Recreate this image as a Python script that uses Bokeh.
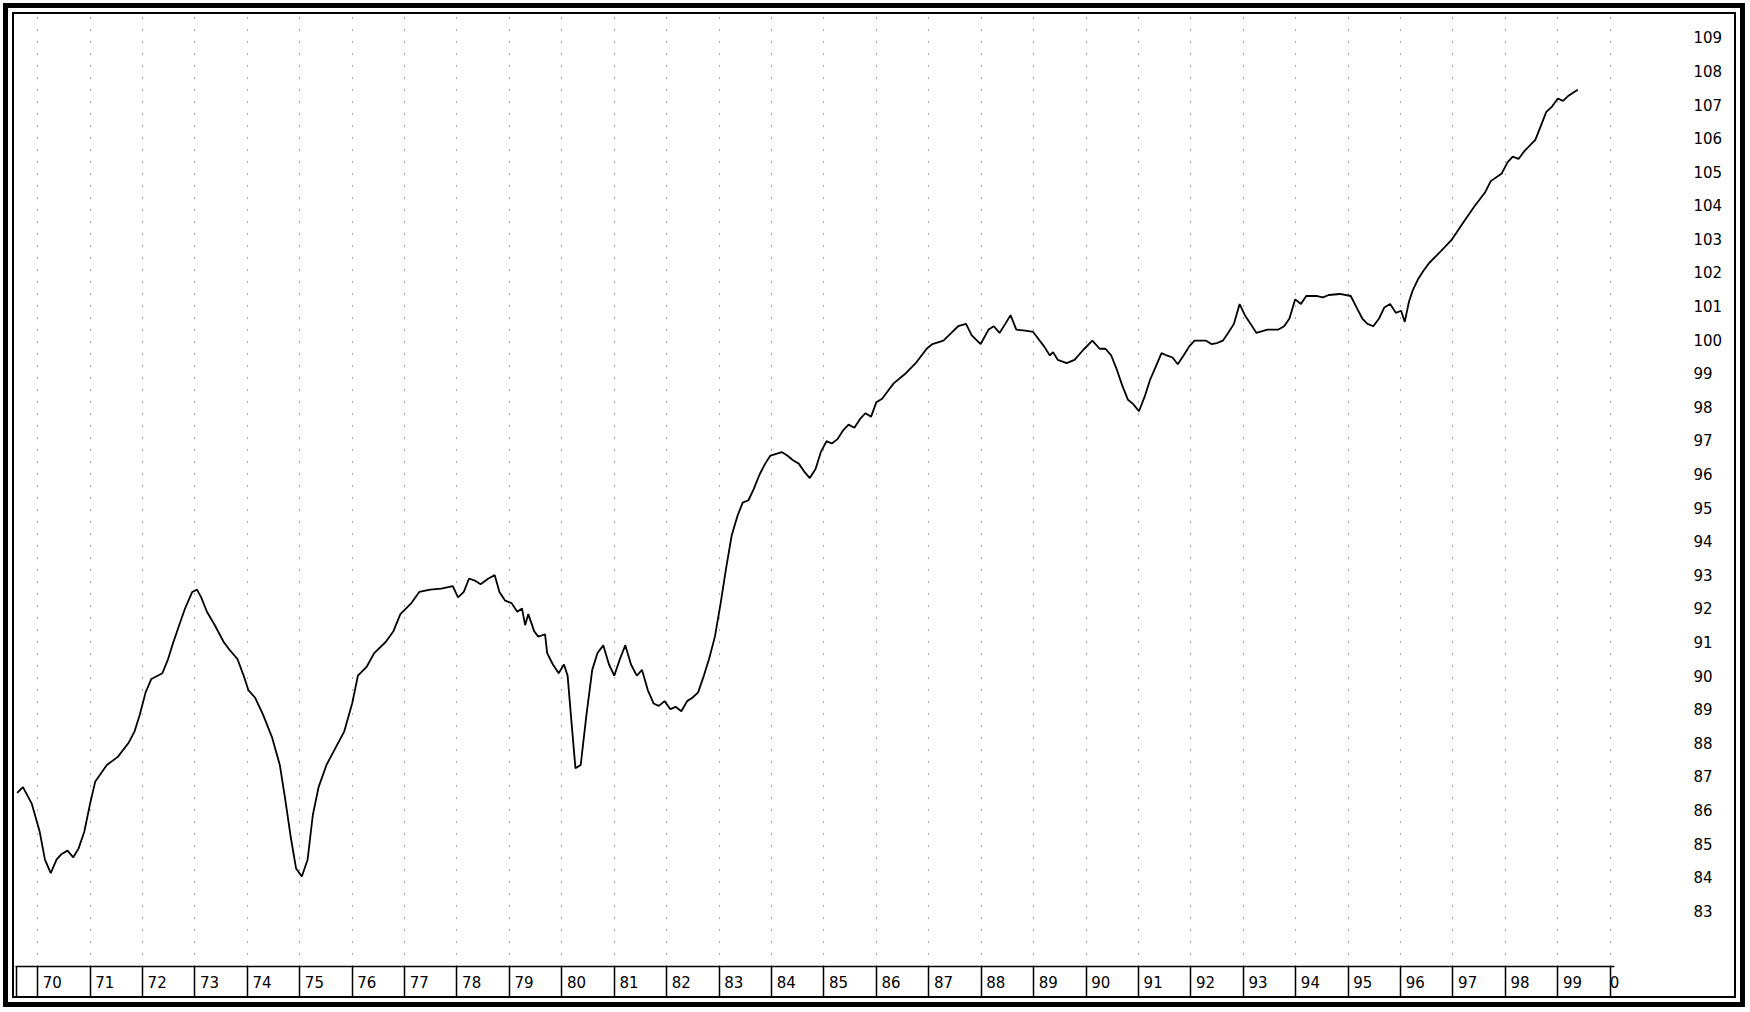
from bokeh.plotting import figure
from bokeh.models import FixedTicker
from bokeh.embed import file_html
from bokeh.resources import INLINE

# ---- data (index level, 1969-1999) ----
years = [1969.61, 1969.72, 1969.89, 1970.04, 1970.14, 1970.25, 1970.36, 1970.46, 1970.57, 1970.68,
         1970.78, 1970.89, 1971.00, 1971.10, 1971.32, 1971.53, 1971.74, 1971.85, 1971.95, 1972.06,
         1972.17, 1972.38, 1972.49, 1972.59, 1972.70, 1972.81, 1972.95, 1973.04, 1973.12, 1973.23,
         1973.38, 1973.55, 1973.66, 1973.81, 1973.93, 1974.02, 1974.15, 1974.30, 1974.47, 1974.62,
         1974.72, 1974.83, 1974.93, 1975.04, 1975.15, 1975.25, 1975.36, 1975.51, 1975.68, 1975.85,
         1976.00, 1976.11, 1976.28, 1976.42, 1976.64, 1976.79, 1976.92, 1977.13, 1977.28, 1977.49,
         1977.70, 1977.92, 1978.02, 1978.13, 1978.23, 1978.34, 1978.45, 1978.60, 1978.72, 1978.81,
         1978.92, 1979.04, 1979.15, 1979.24, 1979.30, 1979.36, 1979.47, 1979.55, 1979.68, 1979.72,
         1979.83, 1979.94, 1980.04, 1980.11, 1980.19, 1980.26, 1980.36, 1980.47, 1980.58, 1980.68,
         1980.79, 1980.90, 1981.00, 1981.11, 1981.21, 1981.32, 1981.43, 1981.53, 1981.64, 1981.75,
         1981.85, 1981.96, 1982.07, 1982.17, 1982.28, 1982.39, 1982.49, 1982.60, 1982.71, 1982.81,
         1982.92, 1983.03, 1983.13, 1983.24, 1983.35, 1983.45, 1983.56, 1983.66, 1983.77, 1983.88,
         1983.98, 1984.20, 1984.30, 1984.41, 1984.52, 1984.62, 1984.73, 1984.84, 1984.94, 1985.05,
         1985.15, 1985.26, 1985.37, 1985.47, 1985.58, 1985.69, 1985.79, 1985.90, 1986.00, 1986.11,
         1986.22, 1986.33, 1986.54, 1986.75, 1986.96, 1987.07, 1987.28, 1987.43, 1987.56, 1987.71,
         1987.82, 1987.99, 1988.14, 1988.24, 1988.35, 1988.46, 1988.56, 1988.67, 1988.84, 1988.99,
         1989.20, 1989.31, 1989.37, 1989.46, 1989.63, 1989.78, 1989.95, 1990.12, 1990.26, 1990.37,
         1990.48, 1990.58, 1990.69, 1990.80, 1990.90, 1991.01, 1991.12, 1991.22, 1991.33, 1991.44,
         1991.54, 1991.65, 1991.75, 1991.86, 1991.97, 1992.07, 1992.29, 1992.39, 1992.50, 1992.61,
         1992.71, 1992.82, 1992.93, 1993.03, 1993.14, 1993.25, 1993.46, 1993.67, 1993.78, 1993.88,
         1993.99, 1994.10, 1994.20, 1994.41, 1994.52, 1994.63, 1994.84, 1995.05, 1995.16, 1995.27,
         1995.37, 1995.48, 1995.59, 1995.69, 1995.80, 1995.91, 1996.01, 1996.08, 1996.16, 1996.23,
         1996.33, 1996.44, 1996.55, 1996.76, 1996.97, 1997.18, 1997.40, 1997.61, 1997.72, 1997.93,
         1998.04, 1998.14, 1998.25, 1998.36, 1998.57, 1998.68, 1998.78, 1998.89, 1999.00, 1999.10,
         1999.21, 1999.38]

values = [86.51, 86.68, 86.18, 85.35, 84.52, 84.12, 84.52, 84.69, 84.79, 84.59,
          84.85, 85.35, 86.18, 86.85, 87.34, 87.58, 88.01, 88.34, 88.84, 89.50,
          89.90, 90.07, 90.50, 91.00, 91.50, 91.99, 92.49, 92.56, 92.33, 91.90,
          91.50, 91.00, 90.77, 90.50, 90.00, 89.57, 89.34, 88.84, 88.17, 87.34,
          86.35, 85.18, 84.26, 84.02, 84.52, 85.85, 86.68, 87.34, 87.84, 88.34,
          89.17, 90.00, 90.27, 90.67, 91.00, 91.33, 91.83, 92.16, 92.49, 92.56,
          92.59, 92.66, 92.33, 92.49, 92.89, 92.83, 92.72, 92.89, 92.99, 92.49,
          92.23, 92.16, 91.90, 92.00, 91.50, 91.83, 91.33, 91.16, 91.23, 90.67,
          90.33, 90.07, 90.33, 90.00, 88.51, 87.24, 87.34, 88.84, 90.17, 90.67,
          90.90, 90.33, 90.00, 90.50, 90.90, 90.33, 90.00, 90.17, 89.57, 89.17,
          89.10, 89.24, 89.00, 89.07, 88.94, 89.24, 89.34, 89.50, 90.00, 90.50,
          91.16, 92.16, 93.16, 94.17, 94.75, 95.15, 95.22, 95.55, 95.98, 96.31,
          96.55, 96.65, 96.55, 96.41, 96.31, 96.08, 95.88, 96.15, 96.65, 96.98,
          96.91, 97.04, 97.31, 97.47, 97.38, 97.64, 97.81, 97.71, 98.14, 98.24,
          98.47, 98.70, 98.97, 99.30, 99.73, 99.87, 99.97, 100.20, 100.40, 100.47,
          100.13, 99.87, 100.30, 100.40, 100.20, 100.47, 100.73, 100.30, 100.27, 100.23,
          99.80, 99.53, 99.63, 99.40, 99.30, 99.40, 99.70, 99.97, 99.73, 99.73,
          99.53, 99.14, 98.64, 98.21, 98.08, 97.87, 98.31, 98.80, 99.20, 99.60,
          99.53, 99.47, 99.27, 99.53, 99.80, 99.97, 99.97, 99.87, 99.90, 99.97,
          100.20, 100.47, 101.06, 100.73, 100.47, 100.20, 100.30, 100.30, 100.40, 100.63,
          101.20, 101.06, 101.30, 101.30, 101.26, 101.33, 101.36, 101.30, 100.96, 100.63,
          100.47, 100.40, 100.63, 100.96, 101.06, 100.80, 100.86, 100.53, 101.13, 101.46,
          101.79, 102.06, 102.29, 102.62, 102.96, 103.45, 103.95, 104.38, 104.72, 104.95,
          105.28, 105.45, 105.38, 105.61, 105.95, 106.38, 106.78, 106.94, 107.18, 107.11,
          107.27, 107.44]

year_starts = list(range(1970, 2001))
year_labels = ["70", "71", "72", "73", "74", "75", "76", "77", "78", "79",
               "80", "81", "82", "83", "84", "85", "86", "87", "88", "89",
               "90", "91", "92", "93", "94", "95", "96", "97", "98", "99", "0"]
y_ticks = list(range(83, 110))

# ---- figure ----
p = figure(width=1748, height=1010,
           x_range=(1969.578, 2000.31), y_range=(81.34, 109.68),
           output_backend="svg", toolbar_location=None,
           x_axis_location="below", y_axis_location="right",
           min_border_left=15, min_border_right=122,
           min_border_top=14, min_border_bottom=44)
p.outline_line_color = None
p.background_fill_color = None
p.border_fill_color = None
# double frame drawn as inset rings behind the (transparent) canvas
p.styles = {"background-color": "white",
            "box-shadow": ("inset 0 0 0 3px white, inset 0 0 0 8px black, "
                           "inset 0 0 0 12px white, inset 0 0 0 14px black")}

p.line(years, values, line_color="black", line_width=1.8)

# bottom axis: boxed year labels
label_pos = [y + 0.28 for y in year_starts[:-1]] + [year_starts[-1] + 0.08]
xa = p.xaxis[0]
xa.ticker = FixedTicker(ticks=label_pos, minor_ticks=[1969.6] + year_starts)
xa.major_label_overrides = {pos: lab for pos, lab in zip(label_pos, year_labels)}
xa.bounds = (1969.578, 2000.09)
xa.major_tick_in = 0
xa.major_tick_out = 0
xa.minor_tick_in = 0
xa.minor_tick_out = 31
xa.minor_tick_line_color = "black"
xa.minor_tick_line_width = 1.5
xa.axis_line_color = "black"
xa.axis_line_width = 1.5
xa.major_label_standoff = -22
xa.major_label_text_font = "DejaVu Sans"
xa.major_label_text_font_size = "15px"
xa.major_label_text_color = "black"

# right axis: value labels only
ya = p.yaxis[0]
ya.ticker = FixedTicker(ticks=y_ticks, minor_ticks=[])
ya.axis_line_color = None
ya.major_tick_line_color = None
ya.minor_tick_line_color = None
ya.major_label_standoff = 61
ya.major_label_text_font = "DejaVu Sans"
ya.major_label_text_font_size = "15px"
ya.major_label_text_color = "black"

# grid: dotted vertical lines at each year boundary
p.xgrid.ticker = FixedTicker(ticks=year_starts)
p.xgrid.grid_line_color = "black"
p.xgrid.grid_line_alpha = 0.7
p.xgrid.grid_line_dash = "1 11"
p.xgrid.grid_line_width = 1
p.ygrid.visible = False

open("out.html", "w").write(file_html(p, INLINE))
